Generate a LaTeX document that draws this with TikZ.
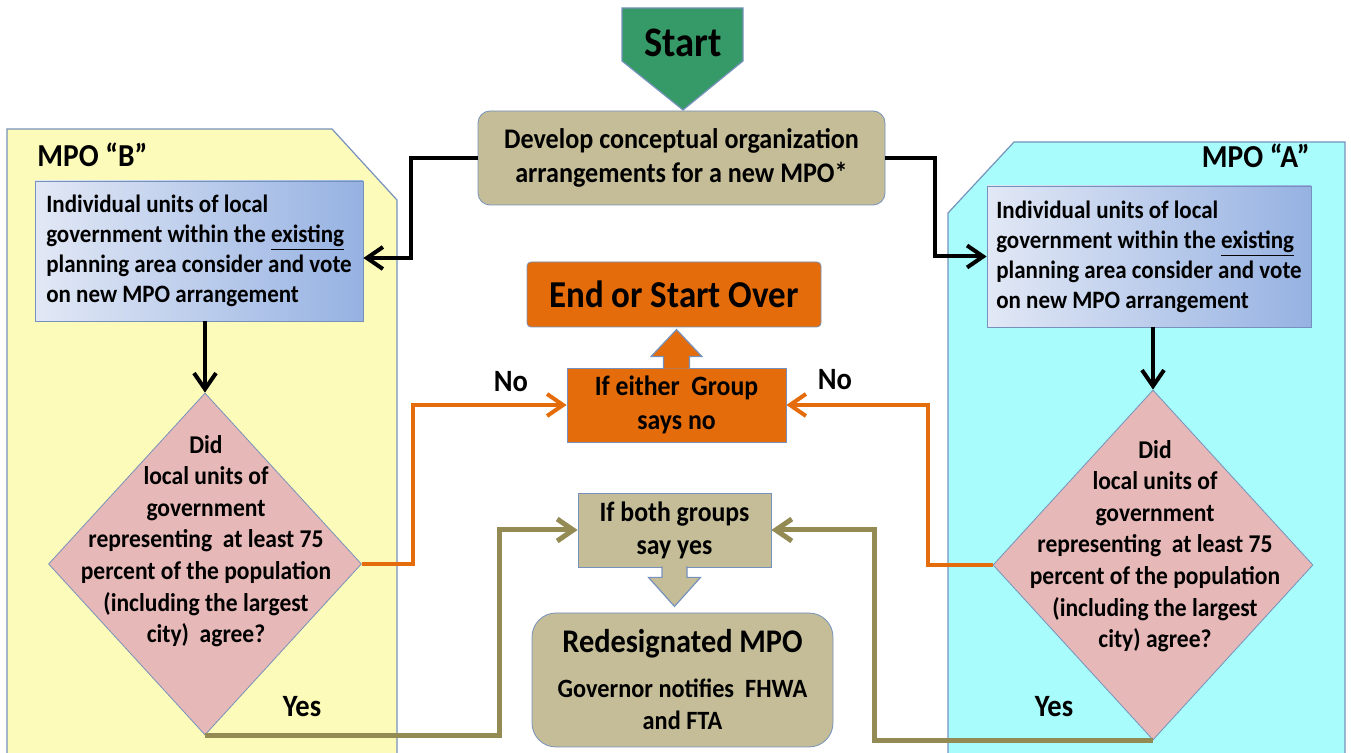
\documentclass[tikz,border=0pt]{standalone}
\usepackage{fontspec}
\setmainfont{Carlito}[FakeStretch=0.92]
\usepackage{tikz}
\usetikzlibrary{arrows.meta,%
                shapes,positioning}

\definecolor{mpoyellow}{RGB}{253,251,185}
\definecolor{mpocyan}{RGB}{168,252,252}
\definecolor{edgeblue}{RGB}{118,146,188}
\definecolor{tanfill}{RGB}{196,189,151}
\definecolor{tanline}{RGB}{148,138,84}
\definecolor{orangefill}{RGB}{228,108,10}
\definecolor{startgreen}{RGB}{53,154,104}
\definecolor{pinkfill}{RGB}{230,184,183}
\definecolor{voteL}{RGB}{226,232,245}
\definecolor{voteR}{RGB}{150,178,226}

\tikzset{
  panel/.style={draw=edgeblue, line width=0.6pt},
  mpolabel/.style={inner sep=0pt, font=\bfseries\fontsize{16}{19}\selectfont},
  votebox/.style={draw=edgeblue, left color=voteL, right color=voteR, align=left,
    minimum height=70pt, font=\bfseries\fontsize{12.5}{15}\selectfont},
  ask/.style={diamond, draw=edgeblue, fill=pinkfill, inner sep=0pt},
  asktext/.style={align=center, font=\bfseries\fontsize{12.8}{15.8}\selectfont},
  tanbox/.style={draw=edgeblue, fill=tanfill, align=center},
  orgbox/.style={draw=edgeblue, fill=orangefill, align=center},
  tag/.style={anchor=base, inner sep=0pt, font=\bfseries\fontsize{15.5}{18}\selectfont},
  blkarrow/.style={line width=2pt, -{Straight Barb[length=8pt,width=11pt]}},
  orgarrow/.style={orangefill, line width=2pt, -{Straight Barb[length=8pt,width=11pt]}},
  tanarrow/.style={tanline, line width=2.5pt, -{Straight Barb[length=8pt,width=11pt]}},
}

\begin{document}
\begin{tikzpicture}[x=0.5pt,y=-0.5pt]
\useasboundingbox (0,0) rectangle (1351,753);
% group panels
\fill[mpoyellow] (7,753) -- (7,129) -- (332,129) -- (397,200) -- (397,753) -- cycle;
\draw[panel] (7,753) -- (7,129) -- (332,129) -- (397,200) -- (397,753);
\fill[mpocyan] (948,753) -- (948,213) -- (1014,142) -- (1345,142) -- (1345,753) -- cycle;
\draw[panel] (948,753) -- (948,213) -- (1014,142) -- (1345,142) -- (1345,753);
\node[mpolabel, anchor=base west] (mpoB) at (37,167) {MPO “B”};
\node[mpolabel, anchor=base east] (mpoA) at (1310,168) {MPO “A”};

% start and first step
\fill[startgreen, draw=edgeblue, line width=0.6pt] (622,8) -- (743,8) -- (743,61) -- (683,110) -- (622,61) -- cycle;
\node[font=\bfseries\fontsize{21}{24}\selectfont] (start) at (683,43) {Start};
\node[tanbox, rounded corners=6pt, minimum width=203.5pt, minimum height=47pt,
  font=\bfseries\fontsize{14.2}{17}\selectfont] (dev) at (681.5,158)
  {Develop conceptual organization\\ arrangements for a new MPO*};

% votes
\node[votebox, minimum width=164pt] (voteB) at (199,251)
  {Individual units of local\\ government within the \underline{existing}\\ planning area consider and vote\\ on new MPO arrangement};
\node[votebox, minimum width=162pt, minimum height=70.5pt] (voteA) at (1149,256.5)
  {Individual units of local\\ government within the \underline{existing}\\ planning area consider and vote\\ on new MPO arrangement};

% decisions
\node[ask, minimum width=156.5pt, minimum height=171pt] (dB) at (205,564) {};
\node[asktext] (qB) at (206,541) {Did\\ local units of\\ government\\ representing~ at least 75\\ percent of the population\\ (including the largest\\ city)~ agree?};
\node[ask, minimum width=160pt, minimum height=175pt] (dA) at (1153,565) {};
\node[asktext] (qA) at (1155,546) {Did\\ local units of\\ government\\ representing~ at least 75\\ percent of the population\\ (including the largest\\ city) agree?};

% outcomes
\node[orgbox, rounded corners=2pt, minimum width=147pt, minimum height=32.5pt,
  font=\bfseries\fontsize{19}{22}\selectfont] (endbox) at (674,294.5) {End or Start Over};
\node[orgbox, minimum width=109.5pt, minimum height=37pt,
  font=\bfseries\fontsize{14}{17}\selectfont] (either) at (676.5,405) {If either~ Group\\ says no};
\node[tanbox, minimum width=96.5pt, minimum height=37pt,
  font=\bfseries\fontsize{14}{16.5}\selectfont] (both) at (674.5,530) {If both groups\\ say yes};
\node[tanbox, rounded corners=12pt, minimum width=150.5pt, minimum height=67pt,
  font=\bfseries\fontsize{13.2}{16}\selectfont] (redes) at (682.5,680)
  {{\fontsize{16.5}{18}\selectfont Redesignated MPO}\\[6.5pt] Governor notifies~ FHWA\\ and FTA};

% labels
\node[tag] (noB) at (511,392) {No};
\node[tag] (noA) at (835,390) {No};
\node[tag] (yesB) at (302,717) {Yes};
\node[tag] (yesA) at (1054,717) {Yes};

% connectors
\draw[blkarrow] (dev.west) -- +(-67,0) |- ([yshift=-3.5pt]voteB.east);
\draw[blkarrow] (dev.east) -- +(50,0) |- (voteA.west);
\draw[blkarrow] (voteB.south -| dB.north) -- (dB.north);
\draw[blkarrow] (voteA.south -| dA.north) -- (dA.north);
\draw[orgarrow] (dB.east) -- +(51,0) |- (either.west);
\draw[orgarrow] (dA.west) -- +(-65,0) |- (either.east);
\draw[tanarrow] (dB.south) -- +(294,0) |- (both.west);
\draw[tanarrow] (dA.south) -- +(-279,0) |- (both.east);
\draw[draw=edgeblue, fill=orangefill, line width=0.6pt] (either.north) ++(-13,1) -- ++(0,-12) -- ++(-12.5,0)
  -- ++(25.5,-27) -- ++(25.5,27) -- ++(-12.5,0) -- ++(0,12);
\draw[draw=edgeblue, fill=tanfill, line width=0.6pt] (both.south) ++(-12.5,-1) -- ++(0,11) -- ++(-13.5,0)
  -- ++(26,29) -- ++(26,-29) -- ++(-13.5,0) -- ++(0,-11);
\end{tikzpicture}
\end{document}
